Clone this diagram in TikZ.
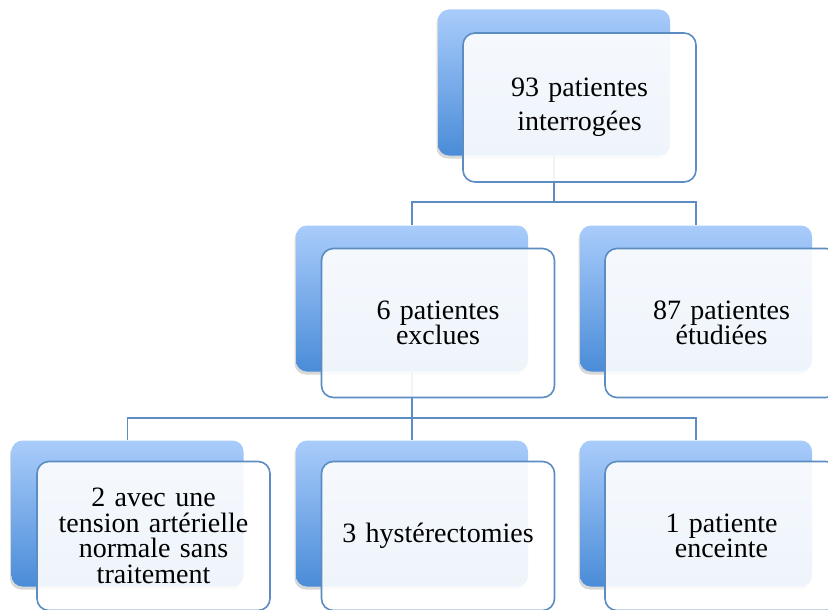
\documentclass[tikz,border=0pt]{standalone}
\usepackage{fontspec}
\setmainfont{Liberation Serif}
\usetikzlibrary{shadows}
\definecolor{backtop}{HTML}{A9CCFB}
\definecolor{backbot}{HTML}{4A8CD8}
\definecolor{edge}{HTML}{5B8CC2}
\tikzset{
  backbox/.style={minimum width=232pt, minimum height=146pt, rounded corners=11pt,
    top color=backtop, bottom color=backbot, inner sep=0pt,
    drop shadow={opacity=0.3, shadow xshift=-1.5pt, shadow yshift=-3pt}},
  frontbox/.style={minimum width=233pt, minimum height=149pt, rounded corners=12pt,
    draw=edge, line width=1.6pt, fill=white, fill opacity=0.91, text opacity=1,
    text width=225pt, align=center, inner sep=0pt,
    font=\fontsize{28}{25.5}\selectfont},
  conn/.style={draw=edge, line width=1.6pt}
}
\begin{document}
\begin{tikzpicture}[x=1pt,y=-1pt]
\useasboundingbox (0,0) rectangle (828,610);
\clip (0,0) rectangle (828,610);
\fill[white] (0,0) rectangle (828,610);
% back boxes
\node[backbox] (a0) at (554,82.5) {};
\node[backbox] (b1) at (412,298.5) {};
\node[backbox] (b2) at (696,298.5) {};
\node[backbox] (c1) at (127.5,513.5) {};
\node[backbox] (c2) at (412,513.5) {};
\node[backbox] (c3) at (696,513.5) {};
% connectors
\coordinate (j1) at (0,202);
\coordinate (j2) at (0,418);
\draw[conn] (a0.south) -- (a0.south |- j1) -| (b1.north);
\draw[conn] (a0.south |- j1) -| (b2.north);
\draw[conn] (b1.south) -- (b1.south |- j2) -| (c1.north);
\draw[conn] (b1.south |- j2) -- (c2.north);
\draw[conn] (b1.south |- j2) -| (c3.north);
% front boxes
\node[frontbox] (a0f) at (579.5,107.5) {\vspace*{8pt}93 patientes\\interrogées};
\node[frontbox] (b1f) at (438,323) {6 patientes\\exclues};
\node[frontbox] (b2f) at (721.5,323) {87 patientes\\étudiées};
\node[frontbox] (c1f) at (153.5,536) {2 avec une\\tension artérielle\\normale sans\\traitement};
\node[frontbox] (c2f) at (438,536) {3 hystérectomies};
\node[frontbox] (c3f) at (721.5,536) {1 patiente\\enceinte};
\end{tikzpicture}
\end{document}
